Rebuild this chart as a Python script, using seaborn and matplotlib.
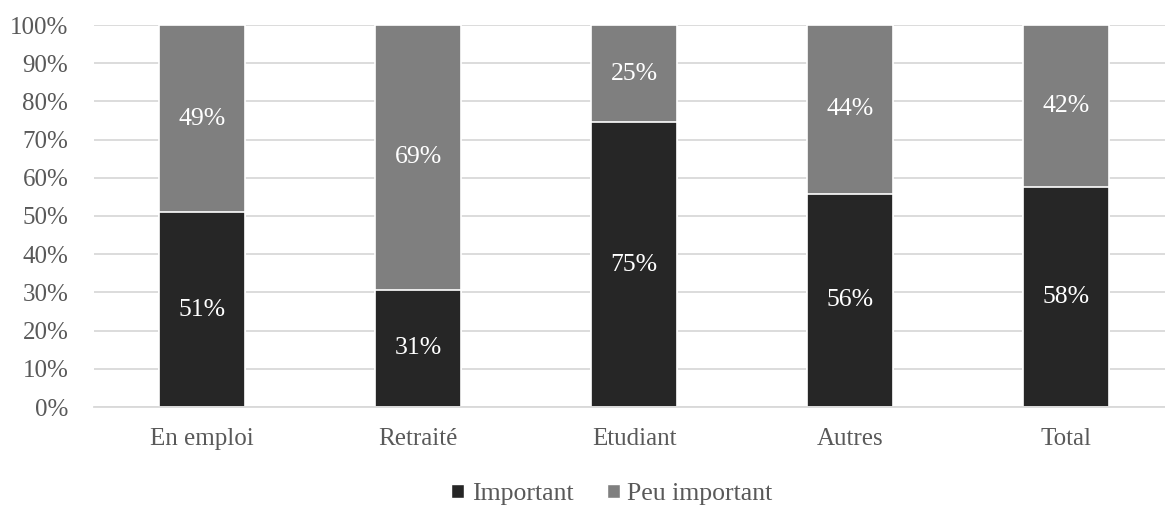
import pandas as pd
import seaborn as sns
import matplotlib.pyplot as plt
import matplotlib.ticker as mtick
from matplotlib.patches import Patch

# Données (en %)
categories = ['En emploi', 'Retraité', 'Etudiant', 'Autres', 'Total']
important = [51.0, 30.7, 74.6, 55.8, 57.6]
peu_important = [49.0, 69.3, 25.4, 44.2, 42.4]

df = pd.DataFrame({'categorie': categories,
                   'Important': important,
                   'Peu important': peu_important})
df['cumul'] = df['Important'] + df['Peu important']

sns.set_style('white')
plt.rcParams['font.family'] = ['Liberation Serif', 'DejaVu Serif']

couleur_fonce = '#262626'
couleur_gris = '#7f7f7f'
couleur_texte = '#595959'

fig = plt.figure(figsize=(11.65, 5.08), dpi=100)
ax = fig.add_axes([94 / 1165, 101 / 508, 1 - 94 / 1165, 382 / 508])

# barres empilées : d'abord le cumul (gris), puis la partie "Important" par-dessus
sns.barplot(data=df, x='categorie', y='cumul', color=couleur_gris, width=0.40,
            edgecolor='white', linewidth=1.2, saturation=1, ax=ax)
sns.barplot(data=df, x='categorie', y='Important', color=couleur_fonce, width=0.40,
            edgecolor='white', linewidth=1.2, saturation=1, ax=ax)

# étiquettes au centre des segments
for i, (imp, peu) in enumerate(zip(important, peu_important)):
    ax.text(i, imp / 2, f'{imp:.0f}%', ha='center', va='center',
            color='white', fontsize=18.5)
    ax.text(i, imp + peu / 2, f'{peu:.0f}%', ha='center', va='center',
            color='white', fontsize=18.5)

ax.set_ylim(0, 100)
ax.set_xlim(-0.5, (1165 - 202) / 216)
ax.set_yticks(range(0, 101, 10))
ax.yaxis.set_major_formatter(mtick.FuncFormatter(lambda v, p: f'{v:.0f}%'))
ax.yaxis.grid(True, color='#d9d9d9', linewidth=1.3)
ax.set_axisbelow(True)
ax.set_xlabel('')
ax.set_ylabel('')

for s in ['top', 'right', 'left']:
    ax.spines[s].set_visible(False)
ax.spines['bottom'].set_color('#d9d9d9')
ax.spines['bottom'].set_linewidth(1.3)

ax.tick_params(axis='both', length=0, labelsize=18, colors=couleur_texte)
ax.tick_params(axis='x', pad=15)
ax.tick_params(axis='y', pad=18.5)

handles = [Patch(facecolor=couleur_fonce, label='Important'),
           Patch(facecolor=couleur_gris, label='Peu important')]
leg = fig.legend(handles=handles, loc='center', bbox_to_anchor=(612 / 1165, 1 - 494 / 508),
                 ncol=2, frameon=False, fontsize=18.5, handlelength=0.5, handleheight=0.5,
                 handletextpad=0.3, columnspacing=1.3)
for t in leg.get_texts():
    t.set_color(couleur_texte)

fig.savefig('out.png', dpi=100)
